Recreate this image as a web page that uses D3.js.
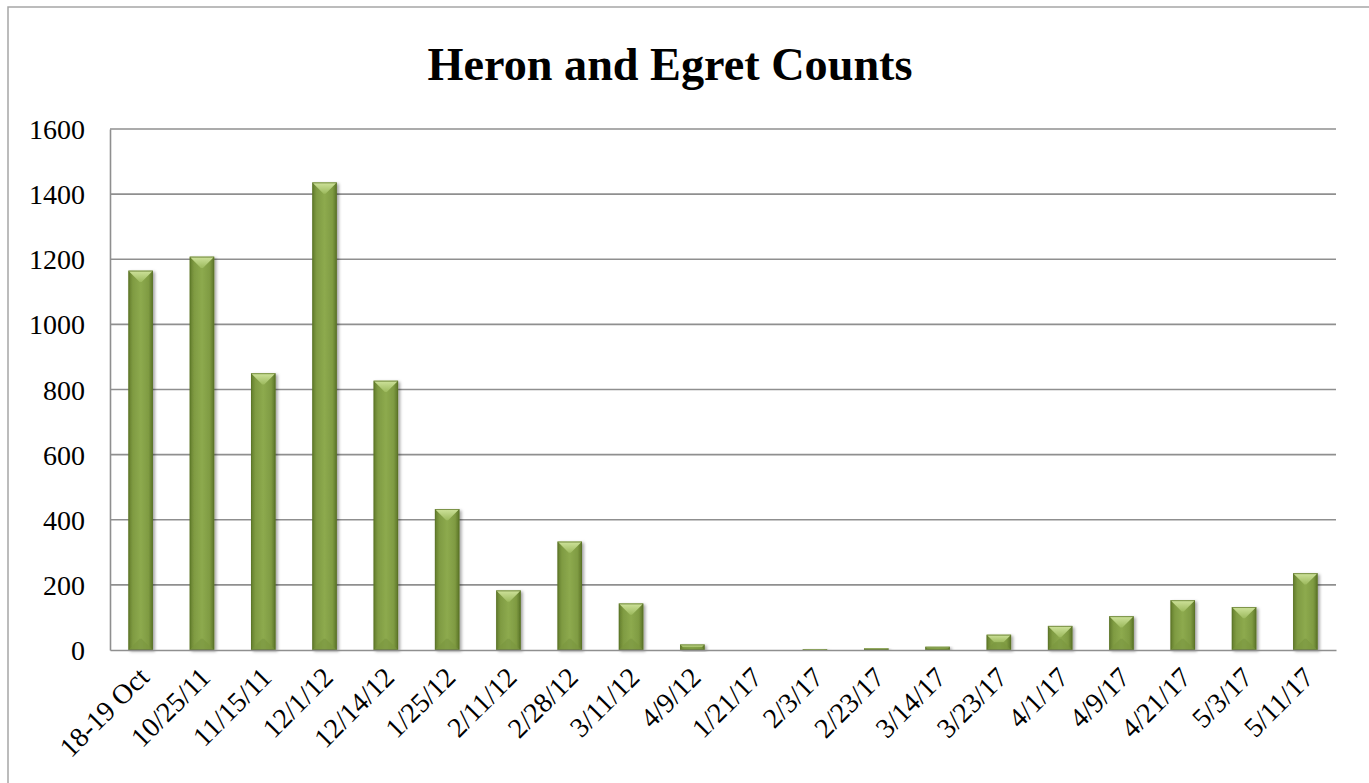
<!DOCTYPE html>
<html>
<head>
<meta charset="utf-8">
<script src="https://cdn.jsdelivr.net/npm/d3@7"></script>
<style>
  html, body { margin: 0; padding: 0; background: #fff; }
  svg { display: block; }
  text { font-family: "Liberation Serif", "DejaVu Serif", serif; fill: #000; }
</style>
</head>
<body>
<svg id="chart" width="1369" height="783"></svg>
<script>
const categories = ["18-19 Oct", "10/25/11", "11/15/11", "12/1/12", "12/14/12", "1/25/12", "2/11/12", "2/28/12", "3/11/12", "4/9/12",
                    "1/21/17", "2/3/17", "2/23/17", "3/14/17", "3/23/17", "4/1/17", "4/9/17", "4/21/17", "5/3/17", "5/11/17"];
const counts = [1165, 1208, 850, 1436, 827, 433, 183, 333, 143, 17,
                0, 3, 5, 10, 47, 74, 104, 153, 132, 236];
const yTicks = [0, 200, 400, 600, 800, 1000, 1200, 1400, 1600];
const title = "Heron and Egret Counts";

const svg = d3.select("#chart");
const W = 1369, H = 783;
const plot = { left: 110, right: 1336, top: 129, bottom: 650 };

// outer chart border
svg.append("rect").attr("x", 8).attr("y", 7).attr("width", W + 10).attr("height", H + 10)
  .attr("fill", "#fff").attr("stroke", "#a6a6a6").attr("stroke-width", 1.5);

const defs = svg.append("defs");
const body = defs.append("linearGradient").attr("id", "barBody").attr("x1", "0").attr("x2", "1").attr("y1", "0").attr("y2", "0");
body.append("stop").attr("offset", "0%").attr("stop-color", "#617b2b");
body.append("stop").attr("offset", "18%").attr("stop-color", "#7f9b42");
body.append("stop").attr("offset", "50%").attr("stop-color", "#8daa4e");
body.append("stop").attr("offset", "82%").attr("stop-color", "#7f9b42");
body.append("stop").attr("offset", "100%").attr("stop-color", "#5a7327");
const topG = defs.append("linearGradient").attr("id", "barTop").attr("x1", "0").attr("x2", "0").attr("y1", "0").attr("y2", "1");
topG.append("stop").attr("offset", "0%").attr("stop-color", "#cfe39c");
topG.append("stop").attr("offset", "100%").attr("stop-color", "#9dba5e");
const f = defs.append("filter").attr("id", "shadow").attr("x", "-30%").attr("y", "-10%").attr("width", "160%").attr("height", "130%");
f.append("feDropShadow").attr("dx", 2).attr("dy", 1.5).attr("stdDeviation", 1.6)
  .attr("flood-color", "#000").attr("flood-opacity", 0.35);

const x = d3.scaleBand().domain(categories).range([plot.left, plot.right]).paddingInner(0.6).paddingOuter(0.3);
const y = d3.scaleLinear().domain([0, 1600]).range([plot.bottom, plot.top]);

// gridlines
svg.append("g").selectAll("line").data(yTicks.filter(d => d > 0)).join("line")
  .attr("x1", plot.left).attr("x2", plot.right)
  .attr("y1", d => y(d)).attr("y2", d => y(d))
  .attr("stroke", "#8f8f8f").attr("stroke-width", 1.6);

// y axis
const yAxis = svg.append("g").attr("transform", `translate(${plot.left},0)`)
  .call(d3.axisLeft(y).tickValues(yTicks).tickSize(0).tickPadding(25).tickFormat(d3.format("d")));
yAxis.attr("font-size", 28).attr("font-family", "Liberation Serif");
yAxis.select(".domain").attr("stroke", "#8f8f8f").attr("stroke-width", 1.6);
yAxis.selectAll("text").attr("font-size", 28).attr("dy", "0.34em");

// bars
const bw = x.bandwidth();
const bars = svg.append("g").selectAll("g").data(categories.map((c, i) => ({ c, v: counts[i] })).filter(d => d.v > 0)).join("g")
  .attr("filter", "url(#shadow)");
bars.each(function(d) {
  const g = d3.select(this);
  const x0 = x(d.c), y0 = y(d.v), h = y(0) - y(d.v);
  const dd = Math.min(bw * 0.46, h / 2);
  g.append("rect").attr("x", x0).attr("y", y0).attr("width", bw).attr("height", h).attr("fill", "url(#barBody)");
  g.append("polygon").attr("points", [[x0, y0], [x0 + bw, y0], [x0 + bw - dd, y0 + dd], [x0 + dd, y0 + dd]].map(p => p.join(",")).join(" "))
    .attr("fill", "url(#barTop)");
  g.append("polygon").attr("points", [[x0, y0 + h], [x0 + bw, y0 + h], [x0 + bw - dd, y0 + h - dd], [x0 + dd, y0 + h - dd]].map(p => p.join(",")).join(" "))
    .attr("fill", "#7a9640").attr("opacity", 0.6);
  g.append("rect").attr("x", x0 + 0.5).attr("y", y0 + 0.5).attr("width", bw - 1).attr("height", Math.max(0, h - 1))
    .attr("fill", "none").attr("stroke", "#5b7428").attr("stroke-width", 1).attr("opacity", 0.7);
});

// x axis baseline
const xAxis = svg.append("g").attr("transform", `translate(0,${plot.bottom})`)
  .call(d3.axisBottom(x).tickSize(0).tickSizeOuter(0).tickPadding(0));
xAxis.attr("font-size", 28).attr("font-family", "Liberation Serif");
xAxis.select(".domain").attr("stroke", "#8f8f8f").attr("stroke-width", 1.6);
xAxis.selectAll("text")
  .attr("font-size", 28)
  .attr("text-anchor", "end").attr("dy", 0).attr("y", 0)
  .attr("transform", "translate(10,29) rotate(-45)");

// title
const t = svg.append("text").attr("x", 670).attr("y", 80).attr("text-anchor", "middle")
  .attr("font-weight", "bold").attr("font-size", 48).text(title);
const tw = t.node().getComputedTextLength();
t.attr("font-size", 48 * 485 / tw);
</script>
</body>
</html>
